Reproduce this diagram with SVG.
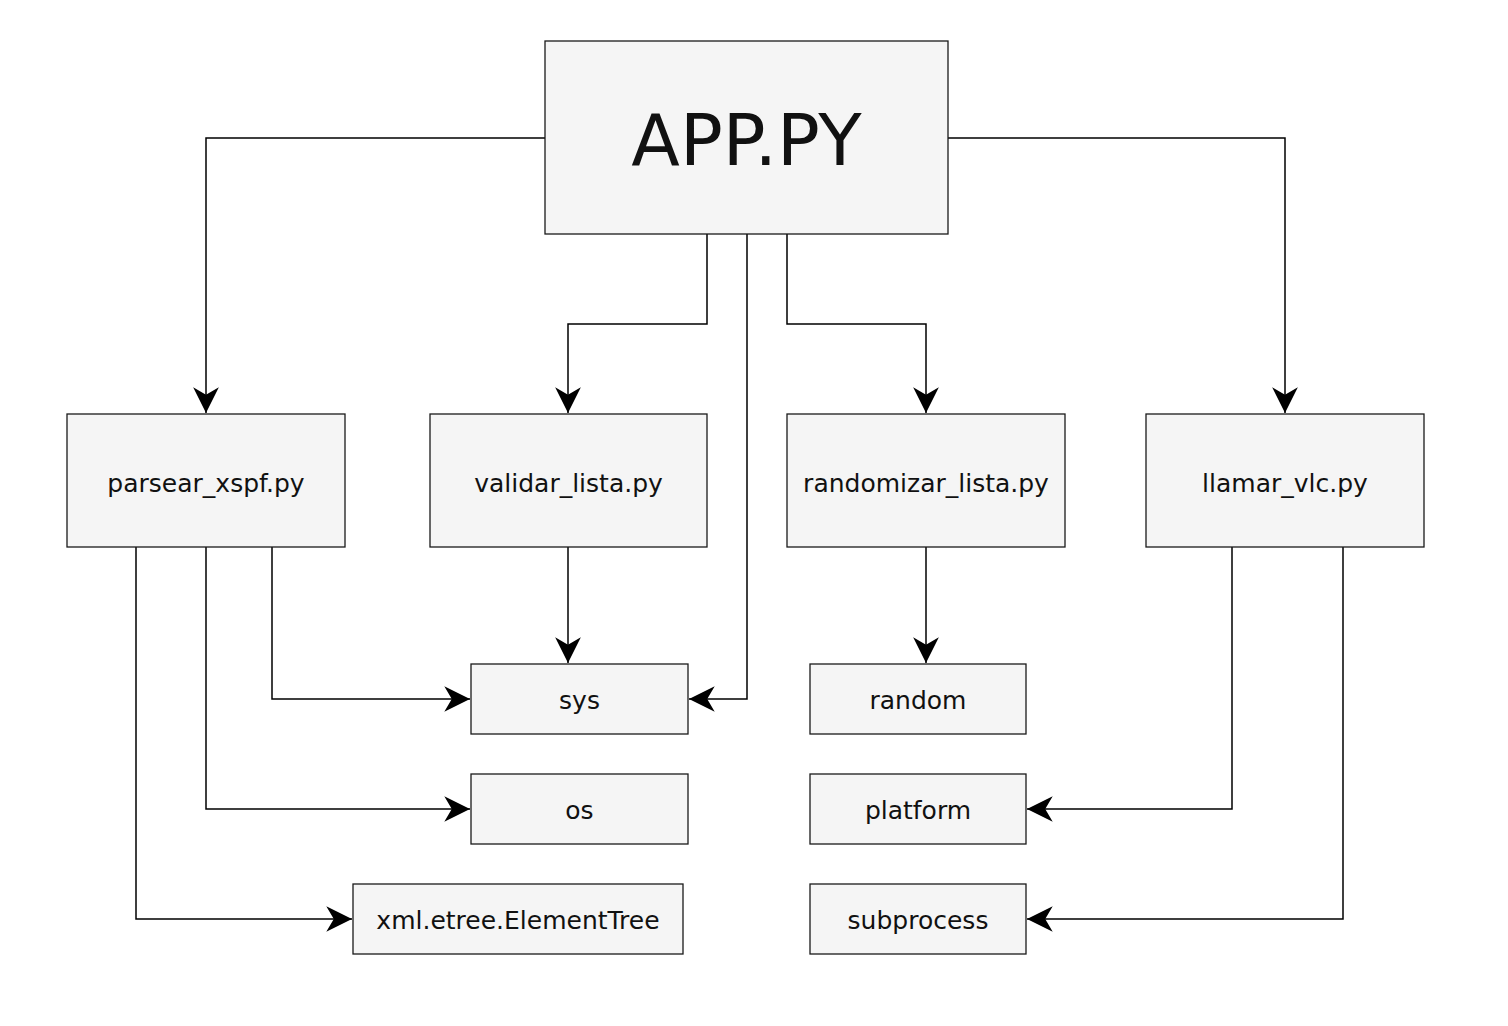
<svg xmlns="http://www.w3.org/2000/svg" width="1508" height="1026" viewBox="0 0 1508 1026">
<style>
.box{fill:#f5f5f5;stroke:#1a1a1a;stroke-width:1.3}
.lbl{font-family:"DejaVu Sans",Verdana,sans-serif;font-size:25px;fill:#111;text-anchor:middle;dominant-baseline:central}
.big{font-size:71px}
.edge{fill:none;stroke:#000;stroke-width:1.5}
</style>
<defs>
<marker id="arr" markerUnits="userSpaceOnUse" markerWidth="30" markerHeight="30" viewBox="-26 -13 28 26" refX="0" refY="0" orient="auto">
<path d="M0,0 L-24,-12 L-17,0 L-24,12 Z" fill="#000"/>
</marker>
</defs>
<rect width="1508" height="1026" fill="#fff"/>
<g id="connectors">
<path class="edge" d="M545,138 H206 V413" marker-end="url(#arr)"/>
<path class="edge" d="M948,138 H1285 V413" marker-end="url(#arr)"/>
<path class="edge" d="M707,234 V324 H568 V413" marker-end="url(#arr)"/>
<path class="edge" d="M747,234 V699 H689" marker-end="url(#arr)"/>
<path class="edge" d="M787,234 V324 H926 V413" marker-end="url(#arr)"/>
<path class="edge" d="M136,547 V919 H352" marker-end="url(#arr)"/>
<path class="edge" d="M206,547 V809 H470" marker-end="url(#arr)"/>
<path class="edge" d="M272,547 V699 H470" marker-end="url(#arr)"/>
<path class="edge" d="M568,547 V663" marker-end="url(#arr)"/>
<path class="edge" d="M926,547 V663" marker-end="url(#arr)"/>
<path class="edge" d="M1232,547 V809 H1027" marker-end="url(#arr)"/>
<path class="edge" d="M1343,547 V919 H1027" marker-end="url(#arr)"/>
</g>
<g id="app"><rect class="box" x="545" y="41" width="403" height="193"/><text class="lbl big" x="746.5" y="140">APP.PY</text></g>
<g id="parsear"><rect class="box" x="67" y="414" width="278" height="133"/><text class="lbl" x="206" y="483">parsear_xspf.py</text></g>
<g id="validar"><rect class="box" x="430" y="414" width="277" height="133"/><text class="lbl" x="568.5" y="483">validar_lista.py</text></g>
<g id="randomizar"><rect class="box" x="787" y="414" width="278" height="133"/><text class="lbl" x="926" y="483">randomizar_lista.py</text></g>
<g id="llamar"><rect class="box" x="1146" y="414" width="278" height="133"/><text class="lbl" x="1285" y="483">llamar_vlc.py</text></g>
<g id="sys"><rect class="box" x="471" y="664" width="217" height="70"/><text class="lbl" x="579.5" y="700">sys</text></g>
<g id="os"><rect class="box" x="471" y="774" width="217" height="70"/><text class="lbl" x="579.5" y="810">os</text></g>
<g id="xml"><rect class="box" x="353" y="884" width="330" height="70"/><text class="lbl" x="518" y="920">xml.etree.ElementTree</text></g>
<g id="random"><rect class="box" x="810" y="664" width="216" height="70"/><text class="lbl" x="918" y="700">random</text></g>
<g id="platform"><rect class="box" x="810" y="774" width="216" height="70"/><text class="lbl" x="918" y="810">platform</text></g>
<g id="subprocess"><rect class="box" x="810" y="884" width="216" height="70"/><text class="lbl" x="918" y="920">subprocess</text></g>
</svg>
